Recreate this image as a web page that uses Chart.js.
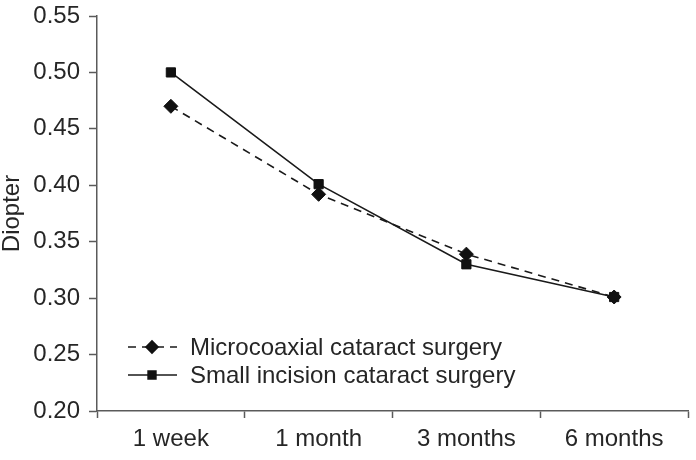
<!DOCTYPE html>
<html>
<head>
<meta charset="utf-8">
<script src="https://cdn.jsdelivr.net/npm/chart.js@4"></script>
<style>
  html, body { margin: 0; padding: 0; background: #fff; }
  #wrap { width: 696px; height: 460px; }
</style>
</head>
<body>
<div id="wrap"><canvas id="grafico" width="696" height="460"></canvas></div>
<script>
// datos
const categorias = ["1 week", "1 month", "3 months", "6 months"];
const microcoaxial = [0.470, 0.392, 0.339, 0.301];
const pequenaIncision = [0.500, 0.401, 0.330, 0.301];
const nombresSeries = ["Microcoaxial cataract surgery", "Small incision cataract surgery"];
const ticksY = [0.20, 0.25, 0.30, 0.35, 0.40, 0.45, 0.50, 0.55];

const fuente = "'Liberation Sans', Arial, sans-serif";
const colorTexto = "#262626";
const colorEje = "#5a5a5a";
const tamFuente = 24;

// leyenda dibujada dentro del area del grafico
const leyendaPlugin = {
    id: "leyendaInterna",
    afterDatasetsDraw(chart) {
        const ctx = chart.ctx;
        const filas = [347, 375];
        chart.data.datasets.forEach((ds, i) => {
            const y = filas[i];
            ctx.save();
            ctx.strokeStyle = ds.borderColor;
            ctx.lineWidth = ds.borderWidth;
            ctx.setLineDash(ds.borderDash || []);
            ctx.beginPath();
            ctx.moveTo(128, y);
            ctx.lineTo(177, y);
            ctx.stroke();
            ctx.setLineDash([]);
            ctx.fillStyle = "#111";
            ctx.strokeStyle = "#111";
            Chart.helpers.drawPoint(ctx, {
                pointStyle: ds.pointStyle,
                radius: ds.pointRadius - 1,
                borderWidth: 1
            }, 152, y);
            ctx.fillStyle = colorTexto;
            ctx.font = tamFuente + "px " + fuente;
            ctx.textBaseline = "middle";
            ctx.textAlign = "left";
            ctx.fillText(ds.label, 190, y + 1);
            ctx.restore();
        });
    }
};

const ctx = document.getElementById("grafico").getContext("2d");
new Chart(ctx, {
    type: "line",
    data: {
        labels: categorias,
        datasets: [{
            label: nombresSeries[0],
            data: microcoaxial,
            borderColor: "#1a1a1a",
            backgroundColor: "#111",
            borderWidth: 1.6,
            borderDash: [8, 6],
            pointStyle: "rectRot",
            pointRadius: 7,
            pointBorderWidth: 1,
            pointBackgroundColor: "#111",
            pointBorderColor: "#111",
            tension: 0
        }, {
            label: nombresSeries[1],
            data: pequenaIncision,
            borderColor: "#1a1a1a",
            backgroundColor: "#111",
            borderWidth: 1.6,
            pointStyle: "rect",
            pointRadius: 6.5,
            pointBorderWidth: 1,
            pointBackgroundColor: "#111",
            pointBorderColor: "#111",
            tension: 0
        }]
    },
    options: {
        responsive: false,
        animation: false,
        events: [],
        layout: { padding: { top: 16, right: 8, bottom: 0, left: 0 } },
        plugins: {
            legend: { display: false },
            tooltip: { enabled: false }
        },
        scales: {
            x: {
                offset: true,
                afterFit: (s) => { s.height = 49; s.paddingLeft = 0; s.paddingRight = 0; },
                grid: {
                    offset: true,
                    drawOnChartArea: false,
                    drawTicks: true,
                    tickLength: 7,
                    tickColor: colorEje,
                    tickWidth: 1.5
                },
                border: { color: colorEje, width: 1.5 },
                ticks: {
                    color: colorTexto,
                    font: { family: fuente, size: tamFuente },
                    padding: 7,
                    maxRotation: 0
                }
            },
            y: {
                min: 0.20,
                max: 0.55,
                afterFit: (s) => { s.width = 97; s.paddingTop = 0; s.paddingBottom = 0; },
                afterBuildTicks: (s) => { s.ticks = ticksY.map(v => ({ value: v })); },
                grid: {
                    drawOnChartArea: false,
                    tickLength: 8,
                    tickColor: colorEje,
                    tickWidth: 1.5
                },
                border: { color: colorEje, width: 1.5 },
                ticks: {
                    color: colorTexto,
                    font: { family: fuente, size: tamFuente },
                    padding: 9,
                    callback: (v) => Number(v).toFixed(2)
                },
                title: {
                    display: true,
                    text: "Diopter",
                    color: colorTexto,
                    font: { family: fuente, size: tamFuente, lineHeight: 1 },
                    padding: 0
                }
            }
        }
    },
    plugins: [leyendaPlugin]
});
</script>
</body>
</html>
